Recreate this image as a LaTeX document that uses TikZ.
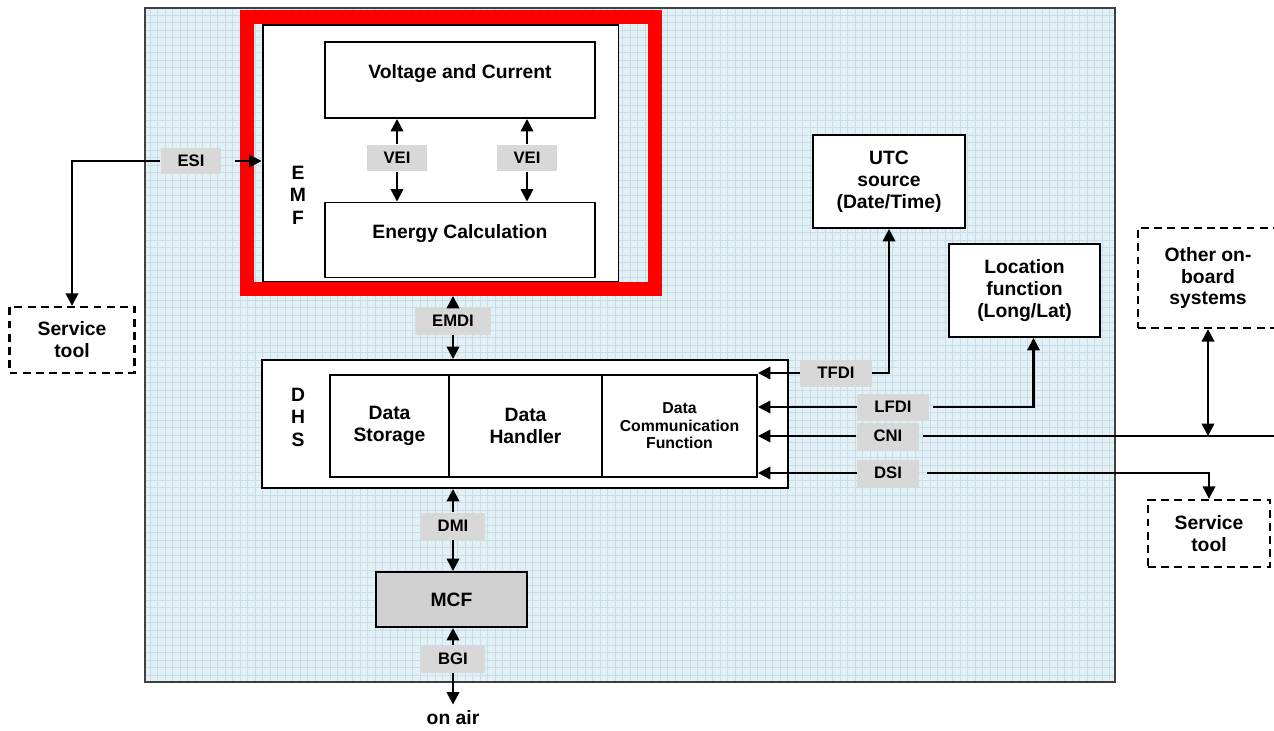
\documentclass[tikz,border=0pt]{standalone}
\usepackage{fontspec}
\setmainfont{Liberation Sans}
\usetikzlibrary{arrows.meta}
\definecolor{gridbg}{HTML}{E2F1F6}
\definecolor{gridln}{HTML}{C8DDE5}
\definecolor{lblgray}{HTML}{D8D8D8}
\definecolor{mcfgray}{HTML}{D0D0D0}
\definecolor{hlred}{HTML}{FF0000}
\begin{document}
\begin{tikzpicture}[x=0.02cm,y=-0.02cm,
    box/.style={draw,line width=1.1pt,fill=white,inner sep=0pt,align=center,
        font=\bfseries\fontsize{11}{12.5}\selectfont},
    extbox/.style={box,dash pattern=on 4.5pt off 3pt,line width=1.3pt},
    lbl/.style={fill=lblgray,inner xsep=0.34cm,inner ysep=0pt,minimum height=0.54cm,
        font=\bfseries\fontsize{9.5}{11}\selectfont},
    plain/.style={align=center,inner sep=0pt,font=\bfseries\fontsize{11}{12.5}\selectfont},
    conn/.style={line width=1.3pt},
    arr/.style={conn,-{Triangle[length=2.5mm,width=2.5mm]}},
    darr/.style={conn,{Triangle[length=2.5mm,width=2.5mm]}-{Triangle[length=2.5mm,width=2.5mm]}}]
    \useasboundingbox (0,0) rectangle (1274,730);
    % grid background
    \fill[gridbg] (145,8) rectangle (1115,682);
    \draw[gridln,line width=0.3pt,step=0.15cm] (145,682) grid (1115,8);
    \draw[line width=0.8pt,black!75] (145,8) rectangle (1115,682);

    % EMF
    \node[box,minimum width=7.12cm,minimum height=5.14cm] (emf) at (440.5,153.5) {};
    \node[plain,font=\bfseries\fontsize{11}{12.8}\selectfont] (emfname) at (298,195) {E\\M\\F};
    \node[box,minimum width=5.4cm,minimum height=1.52cm] (vc) at (460,80) {Voltage and Current\\[-0.5ex]};
    \node[box,minimum width=5.4cm,minimum height=1.5cm] (ec) at (460,240) {Energy Calculation\\[-0.5ex]};
    \foreach \n/\x in {vei1/397,vei2/527} {
        \node[lbl] (\n) at (\x,158) {VEI};
        \draw[arr] (\n.north) -- (\n.north |- vc.south);
        \draw[arr] (\n.south) -- (\n.south |- ec.north);
    }
    \node[draw=hlred,line width=0.28cm,minimum width=8.16cm,minimum height=5.44cm] (hl) at (451,153) {};

    % left service tool
    \node[extbox,minimum width=2.5cm,minimum height=1.32cm] (svcl) at (72,340) {Service\\tool};
    \node[lbl] (esi) at (191,161) {ESI};
    \draw[arr] (esi.west) -| (svcl.north);
    \draw[arr,shorten <=0.26cm] (esi.east) -- (esi.east -| emf.west);

    % DHS
    \node[box,minimum width=10.52cm,minimum height=2.56cm] (dhs) at (525,424) {};
    \node[plain,font=\bfseries\fontsize{11}{12.8}\selectfont] (dhsname) at (298,417) {D\\H\\S};
    \node[box,minimum width=2.38cm,minimum height=2.04cm] (store) at (389.5,426) {Data\\Storage};
    \node[box,minimum width=3.06cm,minimum height=2.04cm] (handler) at (525.5,426) {Data\\Handler};
    \node[box,minimum width=3.1cm,minimum height=2.04cm,font=\bfseries\fontsize{9}{10}\selectfont] (comm) at (679.5,426) {Data\\Communication\\Function};

    \node[lbl] (emdi) at (453,321) {EMDI};
    \draw[arr] (emdi.north) -- (emdi.north |- hl.south);
    \draw[arr] (emdi.south) -- (emdi.south |- dhs.north);

    % MCF
    \node[box,fill=mcfgray,minimum width=3.02cm,minimum height=1.1cm] (mcf) at (451.5,599.5) {MCF};
    \node[lbl] (dmi) at (453,526) {DMI};
    \draw[arr] (dmi.north) -- (dmi.north |- dhs.south);
    \draw[arr] (dmi.south) -- (dmi.south |- mcf.north);
    \node[plain] (air) at (453,718) {on air};
    \node[lbl] (bgi) at (453,659) {BGI};
    \draw[arr] (bgi.north) -- (bgi.north |- mcf.south);
    \draw[arr,shorten >=0.12cm] (bgi.south) -- (air.north);

    % time and location
    \node[box,minimum width=3.04cm,minimum height=1.86cm] (utc) at (889,181.5) {UTC\\source\\(Date/Time)};
    \node[box,minimum width=3.02cm,minimum height=1.86cm] (loc) at (1024.5,290.5) {Location\\function\\(Long/Lat)};
    \node[lbl] (tfdi) at (836,373) {TFDI};
    \draw[arr] (tfdi.west) -- (tfdi.west -| comm.east);
    \draw[arr] (tfdi.east) -| (utc.south);
    \node[lbl] (lfdi) at (893,407) {LFDI};
    \draw[arr] (lfdi.west) -- (lfdi.west -| comm.east);
    \draw[arr,shorten <=0.08cm] (lfdi.east) -| ([xshift=0.18cm]loc.south);

    % on-board systems
    \node[extbox,minimum width=2.8cm,minimum height=2cm] (oth) at (1208,278) {Other on-\\board\\systems};
    \coordinate (cniend) at (1280,436);
    \node[lbl] (cni) at (888,436) {CNI};
    \draw[conn,shorten >=0.06cm] (cniend) -- (cni.east);
    \draw[arr] (cni.west) -- (cni.west -| comm.east);
    \draw[darr] (oth.south) -- (oth.south |- cniend);

    % right service tool
    \node[extbox,minimum width=2.44cm,minimum height=1.34cm] (svcr) at (1209,533.5) {Service\\tool};
    \node[lbl] (dsi) at (888,473) {DSI};
    \draw[arr] (dsi.west) -- (dsi.west -| comm.east);
    \draw[arr,shorten <=0.16cm] (dsi.east) -| (svcr.north);
\end{tikzpicture}
\end{document}
